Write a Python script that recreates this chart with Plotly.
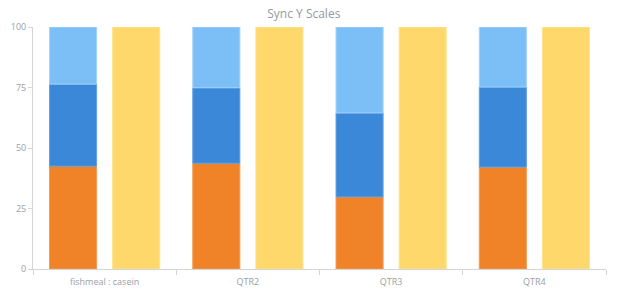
import plotly.graph_objects as go

categories = ["fishmeal : casein", "QTR2", "QTR3", "QTR4"]
series_a = [42.5, 43.7, 29.8, 42.1]
series_b = [33.9, 31.2, 34.7, 33.1]
series_c = [23.6, 25.1, 35.5, 24.8]
series_d = [100, 100, 100, 100]
y_ticks = [0, 25, 50, 75, 100]

base_b = [a for a in series_a]
base_c = [a + b for a, b in zip(series_a, series_b)]

fig = go.Figure()
fig.add_trace(go.Bar(x=categories, y=series_a, offsetgroup="s", name="A",
                     marker=dict(color="#F08228", line=dict(color="#F59A55", width=1))))
fig.add_trace(go.Bar(x=categories, y=series_b, base=base_b, offsetgroup="s", name="B",
                     marker=dict(color="#3C88D8", line=dict(color="#5FA0E6", width=1))))
fig.add_trace(go.Bar(x=categories, y=series_c, base=base_c, offsetgroup="s", name="C",
                     marker=dict(color="#7CBEF6", line=dict(color="#A2D2FA", width=1))))
fig.add_trace(go.Bar(x=categories, y=series_d, offsetgroup="y", name="D",
                     marker=dict(color="#FED86A", line=dict(color="#FFE391", width=1))))

fig.update_layout(
    width=620, height=300,
    margin=dict(l=33, r=14, t=27, b=31),
    paper_bgcolor="white", plot_bgcolor="white",
    barmode="group", bargap=0.119, bargroupgap=0.254,
    showlegend=False,
    title=dict(text="Sync Y Scales", x=0.49, xanchor="center", y=0.955, yanchor="middle",
               font=dict(family="Open Sans", size=12, color="#939aa1")),
    font=dict(family="Open Sans", size=9, color="#9aa0a6"),
)
fig.update_xaxes(showline=True, linecolor="#d3d6d9", linewidth=1, ticks="outside",
                 tickson="boundaries", ticklen=5, tickcolor="#d3d6d9", showgrid=False,
                 ticklabelstandoff=4,
                 tickfont=dict(family="Open Sans", size=9, color="#9aa0a6"))
fig.update_yaxes(range=[0, 100], tickvals=y_ticks, showline=True, linecolor="#d3d6d9",
                 linewidth=1, ticks="outside", ticklen=4, tickcolor="#d3d6d9",
                 showgrid=False, zeroline=False,
                 tickfont=dict(family="Open Sans", size=9, color="#9aa0a6"))

fig.write_html("out.html")
